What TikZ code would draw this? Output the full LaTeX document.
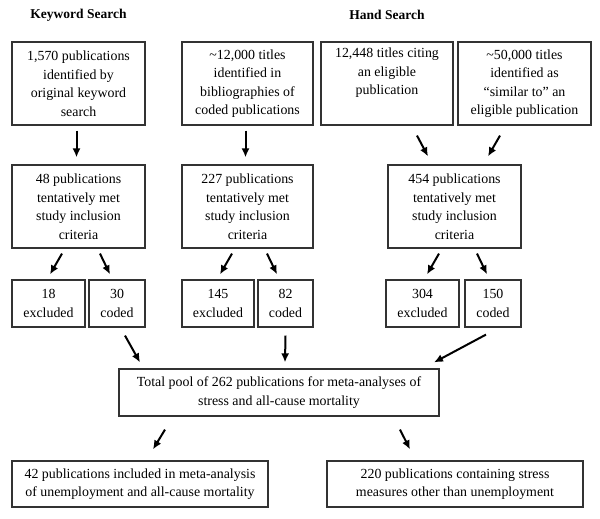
\documentclass[tikz,border=0pt]{standalone}
\usepackage{fontspec}
\setmainfont{Liberation Serif}
\usetikzlibrary{arrows.meta,positioning}

\begin{document}
\begin{tikzpicture}[x=1pt,y=-1pt,
    font=\fontsize{13.9}{18.5}\selectfont,
    box/.style={rectangle, draw=black!80, line width=1.2pt, align=center, inner sep=2pt},
    tallbox/.style={box, minimum width=#1, minimum height=83pt},
    smallbox/.style={box, minimum width=#1, minimum height=47pt},
    widebox/.style={box, minimum width=#1, minimum height=46pt},
    arr/.style={-{Latex[length=9pt,width=8pt]}, line width=2pt}]
  \useasboundingbox (0,0) rectangle (600,519);

  % column titles
  \node[font=\fontsize{13.5}{16}\selectfont\bfseries] (kwtitle) at (78.5,15) {Keyword Search};
  \node[font=\fontsize{13.5}{16}\selectfont\bfseries] (handtitle) at (387,15) {Hand Search};

  % first row
  \node[tallbox=133pt] (kw1)   at (78.5,83.5)  {1,570 publications\\identified by\\original keyword\\search};
  \node[tallbox=131pt] (bib1)  at (247.5,83.5) {\textasciitilde12,000 titles\\identified in\\bibliographies of\\coded publications};
  \node[tallbox=132pt] (cite1) at (387,83.5)   {12,448 titles citing\\an eligible\\publication\\\strut};
  \node[tallbox=133pt] (sim1)  at (524.5,83.5) {\textasciitilde50,000 titles\\identified as\\``similar to'' an\\eligible publication};

  % second row
  \node[tallbox=133pt] (kw2)   at (78.5,206.5)  {48 publications\\tentatively met\\study inclusion\\criteria};
  \node[tallbox=131pt] (bib2)  at (247.5,206.5) {227 publications\\tentatively met\\study inclusion\\criteria};
  \node[tallbox=133pt] (hand2) at (454.5,206.5) {454 publications\\tentatively met\\study inclusion\\criteria};

  % excluded / coded
  \node[smallbox=73pt] (kwex)    at (48.5,303.5)  {18\\excluded};
  \node[smallbox=56pt] (kwcod)   at (117,303.5)   {30\\coded};
  \node[smallbox=72pt] (bibex)   at (218,303.5)   {145\\excluded};
  \node[smallbox=55pt] (bibcod)  at (285.5,303.5) {82\\coded};
  \node[smallbox=73pt] (handex)  at (422.5,303.5) {304\\excluded};
  \node[smallbox=56pt] (handcod) at (493,303.5)   {150\\coded};

  % pool and split
  \node[smallbox=320pt] (total) at (279,392.5) {Total pool of 262 publications for meta-analyses of\\stress and all-cause mortality};
  \node[widebox=256pt] (meta)  at (140,484) {42 publications included in meta-analysis\\of unemployment and all-cause mortality};
  \node[widebox=256pt] (other) at (455,484) {220 publications containing stress\\measures other than unemployment};

  % arrows
  \draw[arr] ([xshift=-2pt,yshift=-5pt]kw1.south) -- ([xshift=-2pt,yshift=7pt]kw2.north);
  \draw[arr] ([xshift=-2pt,yshift=-5pt]bib1.south) -- ([xshift=-2pt,yshift=7pt]bib2.north);
  \draw[arr] ([xshift=30pt,yshift=-10pt]cite1.south) -- ([xshift=-26.5pt,yshift=8pt]hand2.north);
  \draw[arr] ([xshift=-24.5pt,yshift=-10pt]sim1.south) -- ([xshift=33.5pt,yshift=8pt]hand2.north);

  \draw[arr] ([xshift=-16.5pt,yshift=-5pt]kw2.south) -- ([xshift=1.5pt,yshift=5pt]kwex.north);
  \draw[arr] ([xshift=21.5pt,yshift=-5pt]kw2.south) -- ([xshift=-7pt,yshift=5pt]kwcod.north);
  \draw[arr] ([xshift=-15.5pt,yshift=-5pt]bib2.south) -- ([xshift=2pt,yshift=5pt]bibex.north);
  \draw[arr] ([xshift=19.5pt,yshift=-5pt]bib2.south) -- ([xshift=-8.5pt,yshift=5pt]bibcod.north);
  \draw[arr] ([xshift=-15.5pt,yshift=-5pt]hand2.south) -- ([xshift=4.5pt,yshift=5pt]handex.north);
  \draw[arr] ([xshift=22.5pt,yshift=-5pt]hand2.south) -- ([xshift=-6pt,yshift=5pt]handcod.north);

  \draw[arr] ([xshift=8pt,yshift=-8pt]kwcod.south) -- ([xshift=-139pt,yshift=6pt]total.north);
  \draw[arr] ([xshift=0pt,yshift=-8pt]bibcod.south) -- ([xshift=6pt,yshift=6pt]total.north);
  \draw[arr] ([xshift=-7pt,yshift=-7pt]handcod.south) -- ([xshift=155pt,yshift=6pt]total.north);

  \draw[arr] ([xshift=-114pt,yshift=-13pt]total.south) -- ([xshift=13pt,yshift=11pt]meta.north);
  \draw[arr] ([xshift=121pt,yshift=-13pt]total.south) -- ([xshift=-45pt,yshift=11pt]other.north);
\end{tikzpicture}
\end{document}
